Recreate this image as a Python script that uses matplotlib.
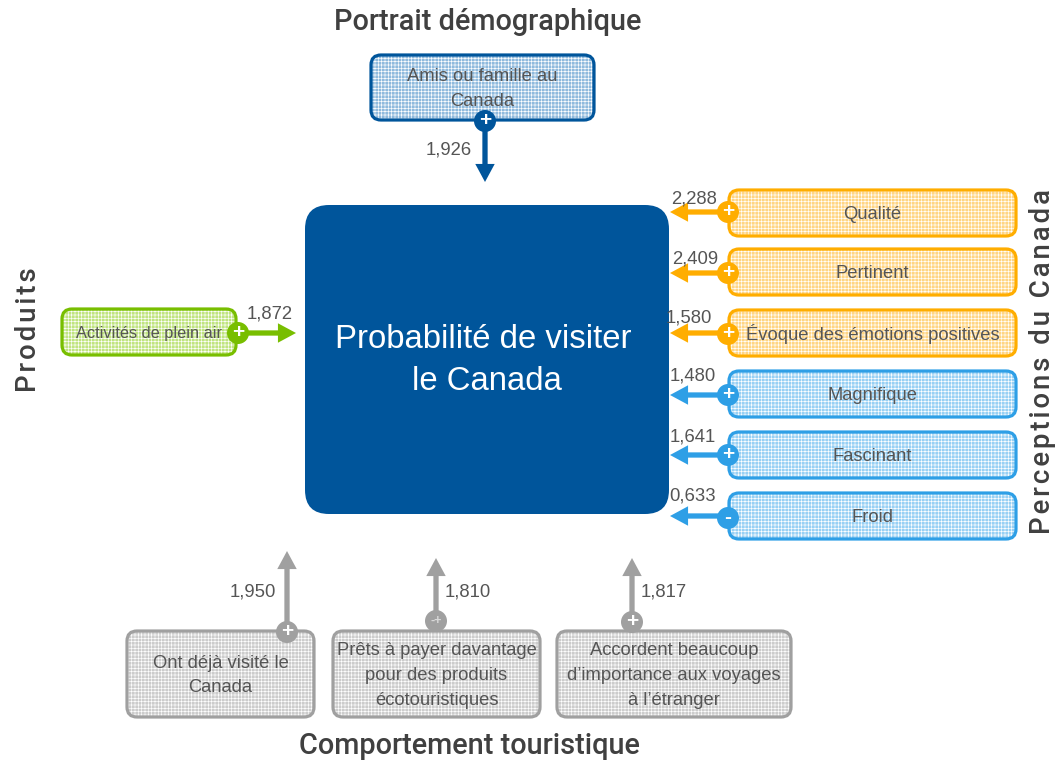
import matplotlib
matplotlib.use('Agg')
import matplotlib.pyplot as plt
from matplotlib.patches import FancyBboxPatch, FancyArrowPatch, Circle

plt.rcParams['font.family'] = ['Liberation Sans', 'DejaVu Sans']
plt.rcParams['hatch.linewidth'] = 0.45

# data
perception_labels = ['Qualité', 'Pertinent', 'Évoque des émotions positives', 'Magnifique', 'Fascinant', 'Froid']
perception_values = ['2,288', '2,409', '1,580', '1,480', '1,641', '0,633']
perception_signs = ['+', '+', '+', '+', '+', '-']
behaviour_labels = ['Ont déjà visité le\nCanada', 'Prêts à payer davantage\npour des produits\nécotouristiques',
                    'Accordent beaucoup\nd’importance aux voyages\nà l’étranger']
behaviour_values = ['1,950', '1,810', '1,817']
behaviour_signs = ['+', '-+', '+']
demo_label = 'Amis ou famille au\nCanada'
demo_value = '1,926'
product_label = 'Activités de plein air'
product_value = '1,872'
center_lines = ['Probabilité de visiter', 'le Canada']

NAVY = '#00559b'
ORANGE = '#ffad00'
BLUE = '#2e9fe6'
GREEN = '#78be00'
GREY = '#a0a0a0'
TEXT = '#555555'

fig = plt.figure(figsize=(10.62, 7.63), dpi=100)
ax = fig.add_axes([0, 0, 1, 1])
ax.set_xlim(0, 1062)
ax.set_ylim(763, 0)
ax.axis('off')


def box(x0, y0, x1, y1, color, fill, label, size=13.2):
    # fond tramé + contour
    style = 'round,pad=0,rounding_size=10'
    ax.add_patch(FancyBboxPatch((x0, y0), x1 - x0, y1 - y0, boxstyle=style, fc=fill, ec='white',
                                hatch='+++++', lw=0, zorder=2))
    ax.add_patch(FancyBboxPatch((x0, y0), x1 - x0, y1 - y0, boxstyle=style, fc='none', ec=color,
                                lw=2.3, zorder=3))
    ax.text((x0 + x1) / 2, (y0 + y1) / 2 + 1.5, label, ha='center', va='center', fontsize=size,
            color=TEXT, linespacing=1.6, zorder=4)


def link(x0, y0, x1, y1, color, sign, cy=None):
    ax.add_patch(FancyArrowPatch((x0, y0), (x1, y1), arrowstyle='simple,head_length=1.3,head_width=1.4,tail_width=0.38',
                                 mutation_scale=10, fc=color, ec='none', lw=0, shrinkA=0, shrinkB=0, zorder=5))
    if cy is None:
        cy = y0
    ax.add_patch(Circle((x0, cy), 11, fc=color, ec='none', zorder=6))
    if sign == '-+':
        ax.text(x0, cy, sign, ha='center', va='center', fontsize=9, fontweight='bold', color='#d8d8d8', zorder=7)
    else:
        ax.text(x0, cy - 0.5, sign, ha='center', va='center', fontsize=15, fontweight='bold', color='white', zorder=7)


def value(x, y, txt):
    ax.text(x, y + 1, txt, ha='center', va='center', fontsize=13.3, color=TEXT, zorder=8)


def title(x, y, txt, size=20.8, rotation=0):
    ax.text(x, y, txt, ha='center', va='center', fontsize=size, rotation=rotation, color='#404040',
            family=['Roboto', 'DejaVu Sans'], fontweight='medium')


# bloc central
ax.add_patch(FancyBboxPatch((305, 205), 364, 309, boxstyle='round,pad=0,rounding_size=24', fc=NAVY, ec='none', zorder=2))
ax.text(483, 340, center_lines[0], ha='center', va='center', fontsize=23.7, color='white', zorder=3)
ax.text(487, 382, center_lines[1], ha='center', va='center', fontsize=23.7, color='white', zorder=3)

# haut
box(371, 55, 594, 120, NAVY, '#8fbadd', demo_label)
link(485, 121, 485, 182, NAVY, '+')
value(449, 149, demo_value)

# gauche
box(62, 309, 236, 355, GREEN, '#c0e480', product_label, size=11.8)
link(238, 333, 296, 333, GREEN, '+')
value(270, 313, product_value)

# droite
right_tops = [190, 249, 310, 371, 432, 493]
right_cy = [212, 273, 334, 395, 455, 518]
right_arrow_y = [212, 273, 333, 395, 455, 516]
right_value_x = [694, 695, 689, 693, 693, 693]
right_value_y = [198, 258, 317, 375, 436, 495]
right_colors = [ORANGE] * 3 + [BLUE] * 3
right_fills = ['#ffd584'] * 3 + ['#97d0f4'] * 3
for i in range(6):
    box(729, right_tops[i], 1016, right_tops[i] + 46, right_colors[i], right_fills[i], perception_labels[i])
    link(728, right_arrow_y[i], 670, right_arrow_y[i], right_colors[i], perception_signs[i], cy=right_cy[i])
    value(right_value_x[i], right_value_y[i], perception_values[i])

# bas
bottom_x0 = [127, 333, 557]
bottom_x1 = [314, 540, 791]
bottom_cx = [287, 436, 632]
bottom_cy = [632, 621, 622]
bottom_tip = [551, 558, 558]
bottom_vx = [253, 468, 664]
for i in range(3):
    box(bottom_x0[i], 631, bottom_x1[i], 717, GREY, '#cccccc', behaviour_labels[i])
    link(bottom_cx[i], bottom_cy[i], bottom_cx[i], bottom_tip[i], GREY, behaviour_signs[i])
    value(bottom_vx[i], 591, behaviour_values[i])

# titres
title(488, 22, 'Portrait démographique')
title(469, 746, 'Comportement touristique')
# lettres espacées sur les titres verticaux
title(28, 330, '\u200a'.join('Produits'), size=19.9, rotation=90)
title(1042, 362, '\u200a'.join('Perceptions du Canada'), size=19.9, rotation=90)

fig.savefig('out.png', dpi=100)
